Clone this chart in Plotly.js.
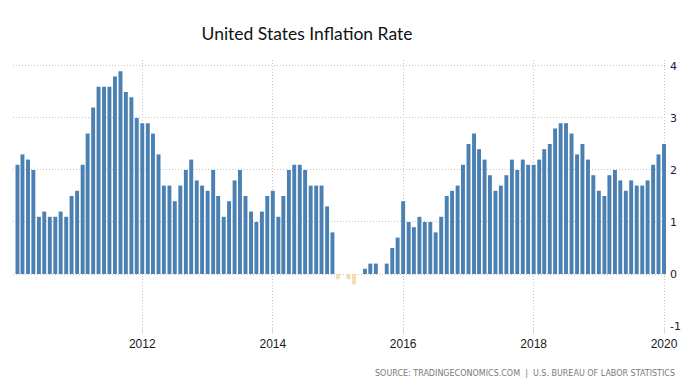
<!DOCTYPE html>
<html>
<head>
<meta charset="utf-8">
<script src="https://cdn.plot.ly/plotly-3.0.1.min.js"></script>
<style>html,body{margin:0;padding:0;background:#fff}#chart{width:693px;height:386px}</style>
</head>
<body>
<div id="chart"></div>
<script>
// Monthly US CPI inflation rate (YoY %), Feb 2010 – Jan 2020
var startMonth = '2010-02';
var inflation = [
  2.1, 2.3, 2.2, 2.0, 1.1, 1.2, 1.1, 1.1, 1.2, 1.1, 1.5,            // Feb–Dec 2010
  1.6, 2.1, 2.7, 3.2, 3.6, 3.6, 3.6, 3.8, 3.9, 3.5, 3.4, 3.0,       // 2011
  2.9, 2.9, 2.7, 2.3, 1.7, 1.7, 1.4, 1.7, 2.0, 2.2, 1.8, 1.7,       // 2012
  1.6, 2.0, 1.5, 1.1, 1.4, 1.8, 2.0, 1.5, 1.2, 1.0, 1.2, 1.5,       // 2013
  1.6, 1.1, 1.5, 2.0, 2.1, 2.1, 2.0, 1.7, 1.7, 1.7, 1.3, 0.8,       // 2014
  -0.1, 0.0, -0.1, -0.2, 0.0, 0.1, 0.2, 0.2, 0.0, 0.2, 0.5, 0.7,    // 2015
  1.4, 1.0, 0.9, 1.1, 1.0, 1.0, 0.8, 1.1, 1.5, 1.6, 1.7, 2.1,       // 2016
  2.5, 2.7, 2.4, 2.2, 1.9, 1.6, 1.7, 1.9, 2.2, 2.0, 2.2, 2.1,       // 2017
  2.1, 2.2, 2.4, 2.5, 2.8, 2.9, 2.9, 2.7, 2.3, 2.5, 2.2, 1.9,       // 2018
  1.6, 1.5, 1.9, 2.0, 1.8, 1.6, 1.8, 1.7, 1.7, 1.8, 2.1, 2.3,       // 2019
  2.5                                                                // Jan 2020
];
var yTicks = [-1, 0, 1, 2, 3, 4];
var xTickYears = ['2012', '2014', '2016', '2018', '2020'];

var titleText = 'United States Inflation Rate';
var sourceText = 'SOURCE: TRADINGECONOMICS.COM  |  U.S. BUREAU OF LABOR STATISTICS';

// build month dates from start month
var dates = [];
(function () {
  var y = parseInt(startMonth.slice(0, 4), 10), m = parseInt(startMonth.slice(5, 7), 10);
  for (var i = 0; i < inflation.length; i++) {
    dates.push(y + '-' + (m < 10 ? '0' + m : m) + '-01');
    m++; if (m > 12) { m = 1; y++; }
  }
})();

var colors = inflation.map(function (v) { return v < 0 ? '#f4dbb0' : '#4a80b2'; });

var trace = {
  type: 'bar',
  x: dates,
  y: inflation,
  width: 22 * 86400000,
  marker: { color: colors, line: { width: 0 } },
  hoverinfo: 'x+y'
};

var layout = {
  width: 693, height: 386,
  margin: { l: 13, r: 27, t: 60, b: 60 },
  paper_bgcolor: '#ffffff',
  plot_bgcolor: '#ffffff',
  showlegend: false,
  title: {
    text: titleText,
    font: { family: 'Lato, "Open Sans", sans-serif', size: 17.5, color: '#111' },
    x: 307 / 693, xanchor: 'center', xref: 'container',
    y: 1 - 34 / 386, yanchor: 'middle', yref: 'container'
  },
  xaxis: {
    type: 'date',
    range: ['2010-01-07', '2020-01-12'],
    tickvals: xTickYears.map(function (y) { return y + '-01-01'; }),
    ticktext: xTickYears,
    showgrid: true,
    gridcolor: '#c4c4c4',
    griddash: '1px,2px',
    gridwidth: 1,
    ticks: 'outside',
    ticklen: 7,
    tickcolor: '#d8d8d8',
    tickfont: { family: '"Liberation Sans", Arial, sans-serif', size: 12, color: '#1a1a1a' },
    showline: false,
    zeroline: false,
    fixedrange: true
  },
  yaxis: {
    side: 'right',
    range: [-1, 4.115],
    tickvals: yTicks,
    ticktext: yTicks.map(String),
    showgrid: true,
    gridcolor: '#c4c4c4',
    griddash: '1px,2px',
    gridwidth: 1,
    zeroline: false,
    showline: false,
    ticks: '',
    ticklabelstandoff: 3,
    tickfont: { family: '"DejaVu Sans", Verdana, sans-serif', size: 11, color: '#1b1b3a' },
    fixedrange: true
  },
  annotations: [{
    text: sourceText,
    xref: 'paper', yref: 'paper',
    x: 1 + 11 / 653, y: -47 / 266,
    xanchor: 'right', yanchor: 'middle',
    showarrow: false,
    font: { family: '"DejaVu Sans", Verdana, sans-serif', size: 8, color: '#7a7a7a' }
  }]
};

Plotly.newPlot('chart', [trace], layout, { displayModeBar: false, staticPlot: true });
</script>
</body>
</html>
